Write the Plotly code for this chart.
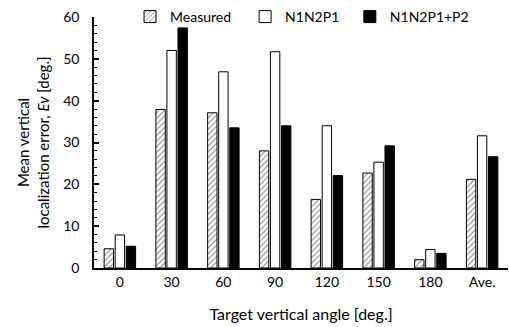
import plotly.graph_objects as go

categories = ["0", "30", "60", "90", "120", "150", "180", "Ave."]
measured = [4.6, 37.9, 37.1, 28.0, 16.4, 22.7, 2.0, 21.2]
n1n2p1 = [7.9, 52.0, 46.9, 51.7, 34.0, 25.3, 4.4, 31.6]
n1n2p1_p2 = [5.2, 57.4, 33.5, 34.0, 22.1, 29.2, 3.5, 26.6]

FONT = "Lato"

fig = go.Figure()
fig.add_trace(go.Bar(
    x=categories, y=measured, name="Measured", legend="legend",
    marker=dict(color="white", line=dict(color="black", width=1),
                pattern=dict(shape="/", fgcolor="black", bgcolor="white", size=4, solidity=0.25)),
))
fig.add_trace(go.Bar(
    x=categories, y=n1n2p1, name="N1N2P1", legend="legend2",
    marker=dict(color="white", line=dict(color="black", width=1)),
))
fig.add_trace(go.Bar(
    x=categories, y=n1n2p1_p2, name="N1N2P1+P2", legend="legend3",
    marker=dict(color="black", line=dict(color="black", width=1)),
))

leg = dict(orientation="h", y=1.0, xanchor="left", yanchor="middle",
           font=dict(size=14), itemwidth=30, bgcolor="rgba(0,0,0,0)")

fig.update_layout(
    width=509, height=327,
    margin=dict(l=94, r=1, t=13, b=59),
    paper_bgcolor="white", plot_bgcolor="white",
    font=dict(family=FONT, size=14, color="black"),
    barmode="group", bargap=0.36, bargroupgap=0.15,
    showlegend=True,
    legend=dict(leg, x=0.087),
    legend2=dict(leg, x=0.365),
    legend3=dict(leg, x=0.618),
    xaxis=dict(showline=True, linecolor="black", linewidth=1.5, ticks="",
               tickfont=dict(size=14),
               title=dict(text="Target vertical angle [deg.]", font=dict(size=16), standoff=20)),
    yaxis=dict(range=[0, 60], dtick=10, showline=True, linecolor="black", linewidth=1.5,
               ticks="inside", ticklen=5, tickwidth=1.5, tickcolor="black",
               ticklabelstandoff=10,
               minor=dict(dtick=2, ticks="inside", ticklen=3, tickwidth=1, tickcolor="black"),
               showgrid=False, zeroline=False, tickfont=dict(size=14),
               title=dict(text="Mean vertical<br>localization error, <i>Ev</i> [deg.]",
                          font=dict(size=15), standoff=10)),
)

fig.write_html("out.html")
